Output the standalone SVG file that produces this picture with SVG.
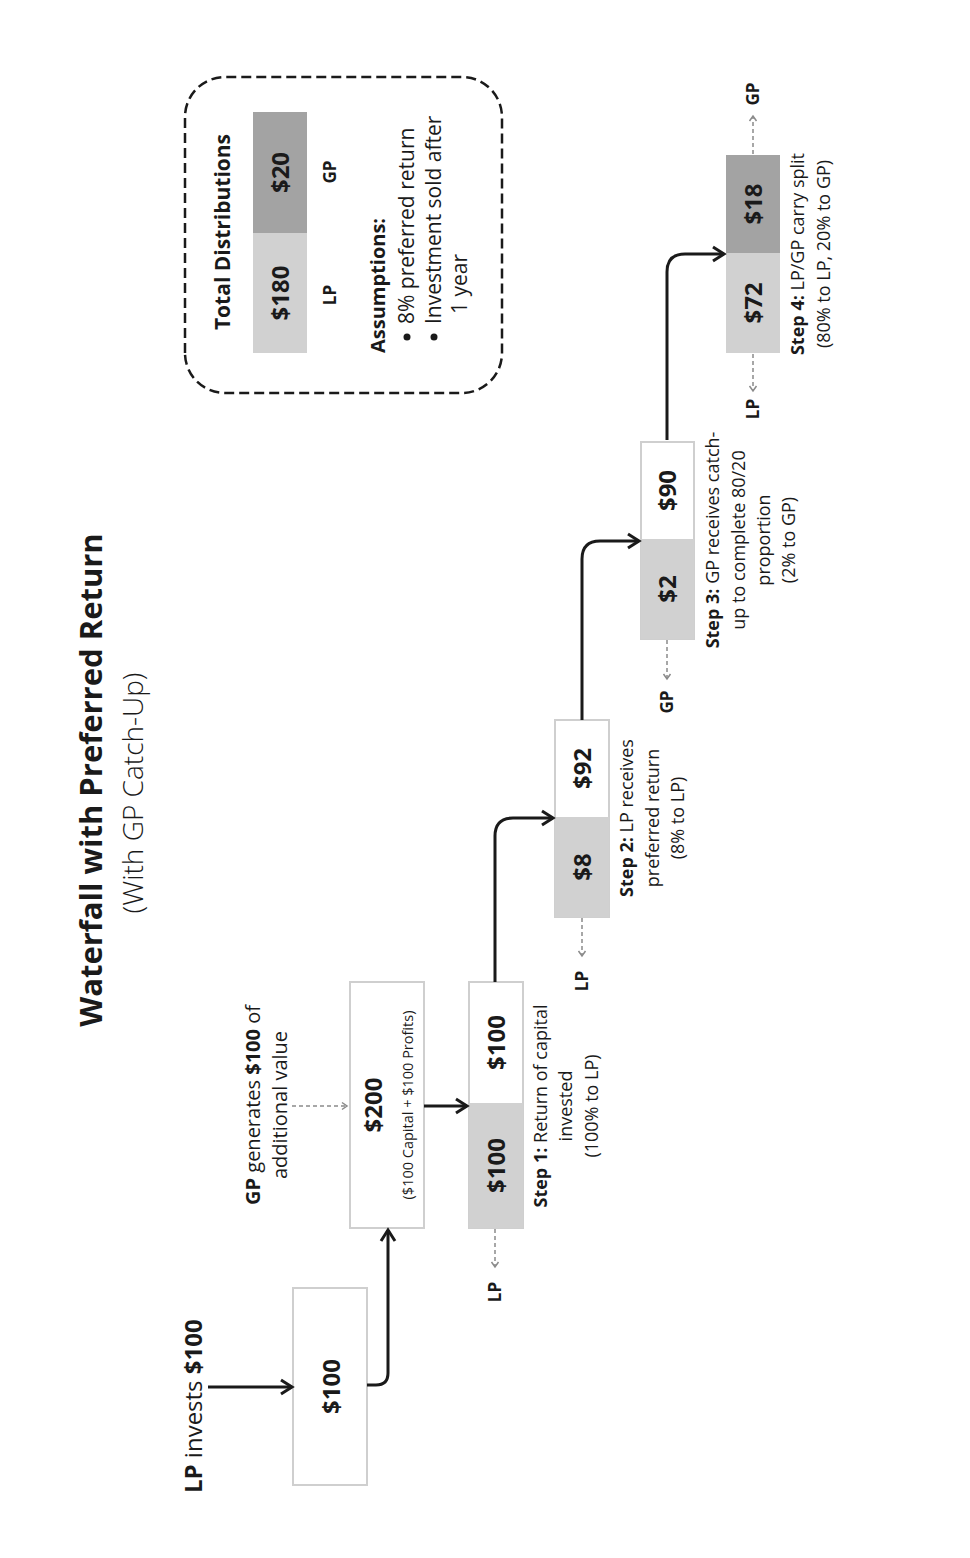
<svg xmlns="http://www.w3.org/2000/svg" width="970" height="1558" viewBox="0 0 970 1558">
<style>
text{font-family:"Open Sans","Liberation Sans",sans-serif;fill:#1a1a1a}
.title{font-size:31px;font-weight:700}
.sub{font-size:28px;font-weight:300}
.num{font-size:24px;font-weight:700;text-anchor:middle}
.lbl{font-size:17px;font-weight:700;text-anchor:middle}
.step{font-size:18px;text-anchor:middle}
.b{font-weight:700}
.box{fill:#fff;stroke:#cfcfcf;stroke-width:2}
.lg{fill:#d1d1d1}
.dg{fill:#a3a3a3}
.conn{fill:none;stroke:#1a1a1a;stroke-width:3;marker-end:url(#ah)}
.dash{fill:none;stroke:#8a8a8a;stroke-width:1.5;stroke-dasharray:4 3;marker-end:url(#ahs)}
</style>
<defs>
<marker id="ah" markerUnits="userSpaceOnUse" markerWidth="20" markerHeight="20" refX="0" refY="0" viewBox="-14 -10 16 20" orient="auto">
<path d="M-11,-7 L0,0 L-11,7" fill="none" stroke="#1a1a1a" stroke-width="3"/>
</marker>
<marker id="ahs" markerUnits="userSpaceOnUse" markerWidth="10" markerHeight="10" refX="0" refY="0" viewBox="-7 -5 8 10" orient="auto">
<path d="M-5,-3.5 L0,0 L-5,3.5" fill="none" stroke="#8a8a8a" stroke-width="1.5"/>
</marker>
</defs>
<rect width="970" height="1558" fill="#fff"/>
<g transform="translate(0,1558) rotate(-90)">
<g id="title">
<text class="title" x="778" y="102" text-anchor="middle">Waterfall with Preferred Return</text>
<text class="sub" x="765" y="143" text-anchor="middle">(With GP Catch-Up)</text>
</g>
<g id="lp-invests">
<text x="65" y="202" font-size="24"><tspan class="b">LP</tspan> invests <tspan class="b">$100</tspan></text>
</g>
<g id="box-100">
<rect class="box" x="73" y="293" width="197" height="74"/>
<text class="num" x="171.5" y="340">$100</text>
</g>
<g id="gp-generates">
<text x="453" y="260" font-size="20" text-anchor="middle"><tspan class="b">GP</tspan> generates <tspan class="b">$100</tspan> of</text>
<text x="453" y="287" font-size="20" text-anchor="middle">additional value</text>
</g>
<g id="box-200">
<rect class="box" x="330" y="350" width="246" height="74"/>
<text class="num" x="453" y="382" font-size="26">$200</text>
<text x="453" y="413" font-size="14.5" text-anchor="middle">($100 Capital + $100 Profits)</text>
</g>
<g id="step1">
<rect class="box" x="330" y="469" width="246" height="54"/>
<rect class="lg" x="330" y="469" width="125" height="54"/>
<text class="num" x="392.5" y="505">$100</text>
<text class="num" x="515.5" y="505">$100</text>
<text class="lbl" x="266" y="501">LP</text>
<text class="step" x="452" y="547"><tspan class="b">Step 1:</tspan> Return of capital</text>
<text class="step" x="452" y="572">invested</text>
<text class="step" x="452" y="598">(100% to LP)</text>
</g>
<g id="step2">
<rect class="box" x="641" y="555" width="197" height="54"/>
<rect class="lg" x="641" y="555" width="100" height="54"/>
<text class="num" x="691" y="591">$8</text>
<text class="num" x="789.5" y="591">$92</text>
<text class="lbl" x="577" y="588">LP</text>
<text class="step" x="740" y="633"><tspan class="b">Step 2:</tspan> LP receives</text>
<text class="step" x="740" y="659">preferred return</text>
<text class="step" x="740" y="684">(8% to LP)</text>
</g>
<g id="step3">
<rect class="box" x="919" y="641" width="197" height="53"/>
<rect class="lg" x="919" y="641" width="100" height="53"/>
<text class="num" x="969" y="676">$2</text>
<text class="num" x="1067.5" y="676">$90</text>
<text class="lbl" x="856" y="673">GP</text>
<text class="step" x="1018" y="719"><tspan class="b">Step 3:</tspan> GP receives catch-</text>
<text class="step" x="1018" y="745">up to complete 80/20</text>
<text class="step" x="1018" y="770">proportion</text>
<text class="step" x="1018" y="795">(2% to GP)</text>
</g>
<g id="step4">
<rect class="lg" x="1205" y="726" width="100" height="54"/>
<rect class="dg" x="1305" y="726" width="98" height="54"/>
<text class="num" x="1255" y="762">$72</text>
<text class="num" x="1354" y="762">$18</text>
<text class="lbl" x="1149" y="759">LP</text>
<text class="lbl" x="1464" y="759">GP</text>
<text class="step" x="1304" y="804"><tspan class="b">Step 4:</tspan> LP/GP carry split</text>
<text class="step" x="1304" y="830">(80% to LP, 20% to GP)</text>
</g>
<g id="summary">
<rect x="1165" y="185" width="316" height="317" rx="40" fill="none" stroke="#1a1a1a" stroke-width="2.5" stroke-dasharray="10 5"/>
<text x="1326" y="230" font-size="21" font-weight="700" text-anchor="middle">Total Distributions</text>
<rect class="lg" x="1205" y="253" width="120" height="54"/>
<rect class="dg" x="1325" y="253" width="121" height="54"/>
<text class="num" x="1265" y="289">$180</text>
<text class="num" x="1385.5" y="289">$20</text>
<text class="lbl" x="1263" y="336">LP</text>
<text class="lbl" x="1386" y="336">GP</text>
<text x="1205" y="385" font-size="20" font-weight="700">Assumptions:</text>
<circle cx="1221" cy="407" r="3.5" fill="#1a1a1a"/>
<circle cx="1221" cy="434" r="3.5" fill="#1a1a1a"/>
<text x="1234" y="414" font-size="21">8% preferred return</text>
<text x="1234" y="441" font-size="21">Investment sold after</text>
<text x="1244" y="467" font-size="21">1 year</text>
</g>
<g id="connectors">
<path class="conn" d="M171,208 V292"/>
<path class="conn" d="M173,367 V376 Q173,388 185,388 H328"/>
<path class="dash" d="M452,292 V347"/>
<path class="conn" d="M452,424 V467"/>
<path class="dash" d="M329,495 H291"/>
<path class="conn" d="M576,495 H722 Q740,495 740,513 V553"/>
<path class="dash" d="M640,582 H602"/>
<path class="conn" d="M838,582 H999 Q1017,582 1017,600 V639"/>
<path class="dash" d="M918,667 H879"/>
<path class="conn" d="M1118,667 H1286 Q1304,667 1304,685 V724"/>
<path class="dash" d="M1204,753 H1167"/>
<path class="dash" d="M1404,753 H1442"/>
</g>
</g>
</svg>
